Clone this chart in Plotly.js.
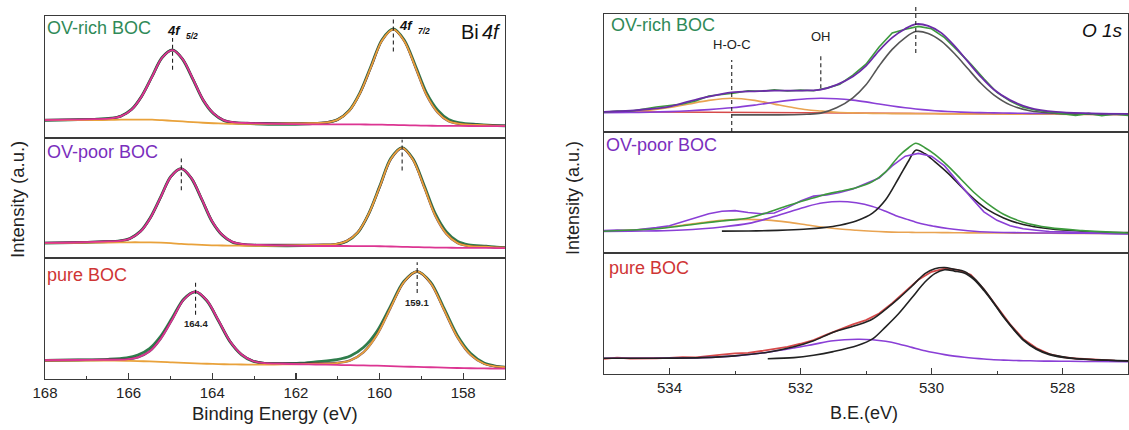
<!DOCTYPE html>
<html><head><meta charset="utf-8">
<script src="https://cdn.plot.ly/plotly-3.0.1.min.js"></script>
<style>html,body{margin:0;padding:0;background:#fff}#chart{width:1129px;height:430px}</style>
</head><body><div id="chart"></div>
<script>
// ---------------- DATA (normalised intensity per panel) ----------------
// Bi 4f
const biTickVals = [168,166,164,162,160,158];
const biTickText = ['168','166','164','162','160','158'];
const biRichX = [168,167.4,166.81,166.42,166.18,165.93,165.69,165.44,165.2,164.95,164.71,164.46,164.22,163.97,163.73,163.48,163.09,162.4,161.68,161.26,161.0,160.73,160.47,160.2,159.94,159.67,159.41,159.14,158.88,158.61,158.35,158.08,157.66,157.3,157];
const biRich52 = [0.147,0.150,0.154,0.161,0.179,0.232,0.340,0.502,0.658,0.721,0.648,0.482,0.314,0.202,0.147,0.128,0.122,0.116,0.112,0.112,0.112,0.111,0.111,0.110,0.109,0.107,0.105,0.103,0.101,0.100,0.099,0.099,0.098,0.098,0.098];
const biRich72 = [0.146,0.146,0.147,0.149,0.150,0.151,0.151,0.150,0.146,0.141,0.136,0.130,0.125,0.121,0.118,0.116,0.115,0.118,0.121,0.128,0.151,0.221,0.365,0.585,0.800,0.890,0.796,0.578,0.355,0.210,0.138,0.115,0.107,0.102,0.100];
const biRichEnv = [0.147,0.150,0.154,0.161,0.179,0.232,0.340,0.502,0.658,0.721,0.648,0.482,0.314,0.202,0.147,0.128,0.122,0.121,0.121,0.128,0.151,0.221,0.365,0.585,0.800,0.890,0.796,0.578,0.355,0.210,0.138,0.115,0.107,0.102,0.100];
const biRichRaw = [0.145,0.149,0.153,0.162,0.181,0.235,0.343,0.505,0.660,0.722,0.645,0.478,0.310,0.198,0.144,0.125,0.118,0.112,0.117,0.127,0.152,0.224,0.370,0.592,0.806,0.894,0.803,0.590,0.372,0.228,0.152,0.124,0.111,0.104,0.100];

const biPoorX = [168,167.3,166.6,166.21,165.97,165.72,165.48,165.23,164.99,164.74,164.5,164.25,164.01,163.76,163.52,163.27,162.88,162.2,161.47,161.05,160.79,160.52,160.26,159.99,159.73,159.46,159.2,158.93,158.67,158.4,158.14,157.87,157.45,157.2,157];
const biPoor52 = [0.126,0.129,0.137,0.143,0.162,0.219,0.334,0.509,0.678,0.744,0.667,0.490,0.310,0.192,0.134,0.115,0.109,0.103,0.100,0.100,0.100,0.099,0.099,0.098,0.096,0.093,0.091,0.089,0.087,0.086,0.085,0.084,0.084,0.083,0.083];
const biPoor72 = [0.124,0.126,0.129,0.130,0.131,0.131,0.130,0.128,0.124,0.117,0.113,0.109,0.106,0.104,0.103,0.102,0.101,0.105,0.110,0.116,0.141,0.214,0.367,0.598,0.824,0.917,0.819,0.589,0.355,0.201,0.126,0.100,0.094,0.088,0.086];
const biPoorEnv = [0.126,0.129,0.137,0.143,0.162,0.219,0.334,0.509,0.678,0.744,0.667,0.490,0.310,0.192,0.134,0.115,0.109,0.108,0.110,0.116,0.141,0.214,0.367,0.598,0.824,0.917,0.819,0.589,0.355,0.201,0.126,0.100,0.094,0.088,0.086];
const biPoorRaw = [0.124,0.128,0.135,0.142,0.163,0.222,0.338,0.512,0.680,0.745,0.664,0.486,0.306,0.189,0.131,0.112,0.105,0.102,0.106,0.112,0.138,0.212,0.368,0.603,0.830,0.920,0.826,0.602,0.372,0.218,0.140,0.110,0.098,0.090,0.087];

const biPureX = [168,167.2,166.49,166.05,165.78,165.5,165.23,164.95,164.68,164.4,164.13,163.85,163.58,163.3,163.03,162.75,162.31,161.9,161.53,161.02,160.7,160.38,160.06,159.74,159.42,159.1,158.78,158.46,158.14,157.82,157.5,157.18,157];
const biPure52 = [0.155,0.157,0.159,0.162,0.178,0.228,0.335,0.497,0.657,0.722,0.650,0.483,0.314,0.203,0.149,0.131,0.126,0.122,0.120,0.116,0.114,0.112,0.110,0.107,0.103,0.100,0.097,0.094,0.091,0.089,0.087,0.086,0.085];
const biPure72 = [0.153,0.153,0.152,0.150,0.148,0.145,0.142,0.137,0.133,0.129,0.126,0.123,0.121,0.120,0.119,0.119,0.121,0.123,0.127,0.132,0.153,0.222,0.366,0.586,0.800,0.889,0.794,0.573,0.347,0.199,0.126,0.102,0.097];
const biPureEnv = [0.155,0.157,0.159,0.162,0.178,0.228,0.335,0.497,0.657,0.722,0.650,0.483,0.314,0.203,0.149,0.131,0.128,0.127,0.129,0.132,0.153,0.222,0.366,0.586,0.800,0.889,0.794,0.573,0.347,0.199,0.126,0.102,0.097];
const biPureRaw = [0.153,0.157,0.163,0.175,0.198,0.252,0.355,0.510,0.662,0.720,0.645,0.478,0.310,0.200,0.147,0.130,0.127,0.130,0.142,0.160,0.190,0.262,0.395,0.600,0.806,0.888,0.800,0.585,0.360,0.210,0.132,0.104,0.097];

const biPeaks52 = [164.95,164.74,164.4];
const biPeaks72 = [159.67,159.46,159.1];
const biPosLabels = ['164.4','159.1'];
const biLevelMain = '4f';
const biLevelSub = ['5/2','7/2'];

// O 1s
const oTickVals = [534,532,530,528];
const oTickText = ['534','532','530','528'];
const oRawX = [535,534.8,534.6,534.4,534.2,534.0,533.8,533.6,533.4,533.2,533.0,532.8,532.6,532.4,532.2,532.0,531.8,531.6,531.4,531.2,531.0,530.8,530.6,530.4,530.2,530.0,529.8,529.6,529.4,529.2,529.0,528.8,528.6,528.4,528.2,528.0,527.8,527.6,527.4,527.2,527.0];

const oRichX = [535,534.6,534.3,534.0,533.7,533.4,533.05,532.7,532.4,532.1,531.9,531.69,531.45,531.2,531.0,530.8,530.6,530.4,530.24,530.05,529.85,529.65,529.45,529.25,529.05,528.8,528.5,528.1,527.6,527];
const oRichHOC = [0.168,0.172,0.185,0.207,0.238,0.268,0.286,0.268,0.236,0.205,0.188,0.178,0.168,0.162,0.159,0.157,0.156,0.156,0.155,0.155,0.154,0.154,0.153,0.153,0.152,0.151,0.151,0.150,0.149,0.149];
const oRichOH = [0.163,0.165,0.168,0.173,0.180,0.190,0.205,0.228,0.252,0.272,0.282,0.286,0.282,0.270,0.255,0.237,0.220,0.205,0.195,0.185,0.177,0.171,0.167,0.164,0.162,0.160,0.158,0.157,0.156,0.155];
const oRichLat = [null,null,null,null,null,null,0.145,0.145,0.145,0.146,0.150,0.160,0.205,0.290,0.400,0.560,0.700,0.800,0.851,0.835,0.770,0.665,0.540,0.415,0.315,0.230,0.180,0.158,0.150,0.148];
const oRichEnv = [0.170,0.180,0.195,0.215,0.260,0.300,0.335,0.345,0.350,0.350,0.352,0.360,0.400,0.470,0.560,0.690,0.800,0.875,0.914,0.900,0.840,0.730,0.600,0.470,0.360,0.270,0.205,0.170,0.158,0.153];
const oRichRaw = [0.168,0.178,0.176,0.195,0.212,0.225,0.238,0.262,0.305,0.318,0.330,0.350,0.345,0.358,0.348,0.355,0.350,0.372,0.405,0.482,0.575,0.720,0.840,0.870,0.895,0.875,0.800,0.690,0.575,0.450,0.335,0.262,0.210,0.185,0.170,0.155,0.140,0.158,0.138,0.152,0.140];
const oRichBgX = [535,533,531,529,527];
const oRichBg = [0.172,0.165,0.158,0.152,0.148];

const oPoorX = [535,534.6,534.2,533.8,533.5,533.2,532.79,532.5,532.2,531.9,531.65,531.4,531.15,530.9,530.7,530.5,530.35,530.24,530.1,529.95,529.75,529.55,529.35,529.15,528.9,528.6,528.2,527.7,527];
const oPoorHOC = [0.182,0.190,0.205,0.230,0.252,0.270,0.278,0.272,0.255,0.232,0.213,0.198,0.188,0.180,0.175,0.172,0.171,0.170,0.170,0.169,0.168,0.167,0.166,0.165,0.165,0.164,0.163,0.162,0.161];
const oPoorOH = [0.178,0.180,0.183,0.190,0.200,0.215,0.245,0.285,0.335,0.385,0.415,0.426,0.415,0.385,0.345,0.300,0.275,0.255,0.235,0.220,0.203,0.190,0.180,0.174,0.170,0.167,0.165,0.163,0.160];
const oPoorLat = [null,null,null,null,null,0.181,0.182,0.185,0.190,0.198,0.210,0.230,0.265,0.330,0.440,0.620,0.760,0.850,0.820,0.755,0.660,0.550,0.445,0.360,0.290,0.235,0.200,0.180,0.168];
const oPoorEnv = [0.180,0.190,0.200,0.225,0.246,0.265,0.290,0.335,0.390,0.440,0.480,0.510,0.540,0.590,0.670,0.800,0.870,0.907,0.870,0.815,0.720,0.610,0.500,0.410,0.320,0.255,0.210,0.185,0.165];
const oPoorRaw = [0.185,0.190,0.185,0.195,0.210,0.225,0.260,0.290,0.325,0.345,0.350,0.335,0.325,0.330,0.375,0.430,0.470,0.480,0.500,0.530,0.575,0.620,0.720,0.800,0.823,0.800,0.720,0.590,0.460,0.340,0.270,0.225,0.200,0.188,0.178,0.175,0.170,0.168,0.165,0.160,0.158];

const oPureX = [535,534.5,534,533.5,533,532.5,532.1,531.8,531.5,531.13,530.9,530.7,530.5,530.3,530.1,529.95,529.8,529.65,529.5,529.35,529.2,529.05,528.9,528.75,528.6,528.4,528.2,527.9,527.5,527];
const oPureOV = [0.130,0.130,0.131,0.135,0.150,0.180,0.215,0.245,0.275,0.287,0.283,0.270,0.248,0.220,0.192,0.175,0.160,0.148,0.138,0.130,0.124,0.118,0.115,0.112,0.110,0.108,0.106,0.105,0.103,0.102];
const oPureLat = [null,null,null,null,null,0.126,0.135,0.155,0.185,0.235,0.290,0.390,0.500,0.630,0.760,0.830,0.862,0.850,0.835,0.780,0.690,0.585,0.470,0.370,0.280,0.205,0.160,0.130,0.118,0.110];
const oPureEnv = [0.130,0.130,0.131,0.135,0.150,0.180,0.225,0.275,0.345,0.405,0.455,0.535,0.625,0.725,0.830,0.870,0.880,0.865,0.848,0.790,0.700,0.590,0.475,0.375,0.285,0.210,0.165,0.135,0.118,0.108];
const oPureRaw = [0.125,0.135,0.128,0.132,0.130,0.133,0.140,0.138,0.152,0.160,0.170,0.175,0.190,0.205,0.225,0.250,0.280,0.325,0.370,0.410,0.445,0.500,0.585,0.680,0.780,0.845,0.870,0.860,0.820,0.700,0.555,0.410,0.290,0.215,0.165,0.140,0.128,0.120,0.115,0.110,0.108];

const oPeakLat = 530.24, oPeakOH = 531.69, oPeakHOC = 533.05;

// ---------------- STYLE / LAYOUT ----------------
const W = 1129, H = 430;
const px = x => x / W, py = y => 1 - y / H;
const FONT = 'Liberation Sans, Arial, Helvetica, sans-serif';
const C = {
  green:'#2f7d4c', magenta:'#dc3592', orange:'#e9a23b', dark:'#4a1e3e',
  oGreen:'#3d9a3d', oPurple:'#6b2ca8', oViolet:'#8a3fd6', oOrange:'#e9a452', oBlack:'#222', oRed:'#d64a4a'
};
const leftRows = [[16,138],[138,258],[258,379]];
const rightRows = [[14,132],[132,253],[253,374]];
const leftX = [45,505], rightX = [604,1128];

function tr(x, y, ax, color, width, shape, extra) {
  return Object.assign({x:x, y:y, xaxis:'x'+(ax===1?'':ax), yaxis:'y'+(ax===1?'':ax), type:'scatter', mode:'lines',
    line:{color:color, width:width, shape:shape||'spline', smoothing:0.9}, hoverinfo:'skip', showlegend:false, connectgaps:false}, extra||{});
}

const data = [
  // Bi OV-rich
  tr(biRichX, biRichRaw, 1, C.green, 2.8),
  tr(biRichX, biRichEnv, 1, C.dark, 2.4, 'spline', {opacity:0.8}),
  tr(biRichX, biRich72, 1, C.orange, 1.8),
  tr(biRichX, biRich52, 1, C.magenta, 1.8),
  // Bi OV-poor
  tr(biPoorX, biPoorRaw, 2, C.green, 2.8),
  tr(biPoorX, biPoorEnv, 2, C.dark, 2.4, 'spline', {opacity:0.8}),
  tr(biPoorX, biPoor72, 2, C.orange, 1.8),
  tr(biPoorX, biPoor52, 2, C.magenta, 1.8),
  // Bi pure
  tr(biPureX, biPureRaw, 3, C.green, 2.8),
  tr(biPureX, biPureEnv, 3, C.dark, 2.4, 'spline', {opacity:0.8}),
  tr(biPureX, biPure72, 3, C.orange, 1.8),
  tr(biPureX, biPure52, 3, C.magenta, 1.8),
  // O OV-rich
  tr(oRichBgX, oRichBg, 4, C.oRed, 1.6, 'linear'),
  tr(oRichX, oRichHOC, 4, C.oOrange, 1.6),
  tr(oRichX, oRichOH, 4, C.oViolet, 1.6),
  tr(oRichX, oRichLat, 4, '#555', 1.6),
  tr(oRawX, oRichRaw, 4, C.oGreen, 1.6, 'linear'),
  tr(oRichX, oRichEnv, 4, C.oPurple, 1.8),
  // O OV-poor
  tr(oPoorX, oPoorHOC, 5, C.oOrange, 1.6),
  tr(oPoorX, oPoorOH, 5, C.oViolet, 1.6),
  tr(oPoorX, oPoorLat, 5, C.oBlack, 1.6),
  tr(oRawX, oPoorRaw, 5, C.oViolet, 1.6, 'linear'),
  tr(oPoorX, oPoorEnv, 5, C.oGreen, 1.6),
  // O pure
  tr(oRawX, oPureRaw, 6, C.oRed, 1.8, 'linear'),
  tr(oPureX, oPureOV, 6, C.oViolet, 1.6),
  tr(oPureX, oPureLat, 6, C.oBlack, 1.6),
  tr(oPureX, oPureEnv, 6, C.oBlack, 1.6)
];

const layout = {
  width:W, height:H, margin:{l:0,r:0,t:0,b:0}, paper_bgcolor:'#fff', plot_bgcolor:'#fff',
  font:{family:FONT, color:'#222'}, showlegend:false, shapes:[], annotations:[]
};
const lineStyle = {showline:true, mirror:true, linecolor:'#3a3a3a', linewidth:1.3, showgrid:false, zeroline:false, fixedrange:true};
for (let i = 1; i <= 6; i++) {
  const left = i <= 3;
  const row = left ? leftRows[i-1] : rightRows[i-4];
  const xs = left ? leftX : rightX;
  const bottom = (i === 3 || i === 6);
  const xa = Object.assign({}, lineStyle, {
    domain:[px(xs[0]), px(xs[1])], range: left ? [168,157] : [535,527],
    anchor:'y'+(i===1?'':i), ticks:'', showticklabels:false
  });
  if (bottom) {
    Object.assign(xa, {ticks:'inside', ticklen:6, tickwidth:1.2, tickcolor:'#3a3a3a',
      tickmode:'array', tickvals: left ? biTickVals : oTickVals, ticktext: left ? biTickText : oTickText,
      showticklabels:true, tickfont:{size:15, color:'#222', family:FONT},
      minor:{ticks:'inside', ticklen:3.5, tickwidth:1, tickcolor:'#3a3a3a', dtick:1, tick0:0}});
  }
  const ya = Object.assign({}, lineStyle, {
    domain:[py(row[1]), py(row[0])], range:[0,1], anchor:'x'+(i===1?'':i), ticks:'', showticklabels:false
  });
  layout['xaxis'+(i===1?'':i)] = xa;
  layout['yaxis'+(i===1?'':i)] = ya;
}

// dashed peak markers
const dash = {color:'#222', width:1.1, dash:'4px,3px'};
function vline(ax, x, y0, y1) {
  layout.shapes.push({type:'line', xref:'x'+(ax===1?'':ax), yref:'y'+(ax===1?'':ax)+' domain', x0:x, x1:x, y0:y0, y1:y1, line:dash});
}
vline(1, biPeaks52[0], 0.56, 0.82); vline(1, biPeaks72[0], 0.71, 0.99);
vline(2, biPeaks52[1], 0.565, 0.83); vline(2, biPeaks72[1], 0.73, 0.985);
vline(3, biPeaks52[2], 0.53, 0.805); vline(3, biPeaks72[2], 0.71, 0.965);
vline(4, oPeakLat, 0.67, 1.07); vline(4, oPeakOH, 0.37, 0.65); vline(4, oPeakHOC, 0.0, 0.61);

function ann(o) { layout.annotations.push(Object.assign({showarrow:false}, o)); }
function fnt(size, color, weight, style) { return {family:FONT, size:size, color:color||'#222', weight:weight||'normal', style:style||'normal'}; }
function t(ax, x, y, text, font, xanchor, extra) {
  ann(Object.assign({xref:'x'+(ax===1?'':ax), yref:'y'+(ax===1?'':ax)+' domain', x:x, y:y, text:text, xanchor:xanchor||'center', yanchor:'middle', font:font}, extra||{}));
}
function p(x, y, text, font, xanchor, extra) {
  ann(Object.assign({xref:'paper', yref:'paper', x:px(x), y:py(y), text:text, xanchor:xanchor||'center', yanchor:'middle', font:font}, extra||{}));
}
// panel labels
p(45, 28, 'OV-rich BOC', fnt(18, '#2f8a58'), 'left');
p(45, 152, 'OV-poor BOC', fnt(18, '#7a2fbd'), 'left');
p(45, 275, 'pure BOC', fnt(18, '#cf3535'), 'left');
p(609, 25, 'OV-rich BOC', fnt(18, '#2f8a58'), 'left');
p(604, 145, 'OV-poor BOC', fnt(18, '#7a2fbd'), 'left');
p(607, 268, 'pure BOC', fnt(18, '#cf3535'), 'left');
// element labels
p(481, 32, 'Bi', fnt(20, '#111'), 'right');
p(503, 32, '4f', fnt(20, '#111', 'normal', 'italic'), 'right');
p(1125, 30, 'O 1s', fnt(19, '#111', 'normal', 'italic'), 'right');
// spin-orbit labels
t(1, 165.14, 0.88, biLevelMain, fnt(13, '#111', 'bold', 'italic'), 'left');
t(1, 165.14, 0.88, biLevelSub[0], fnt(8.5, '#111', 'bold', 'italic'), 'left', {xshift:19, yshift:-5});
t(1, 159.58, 0.92, biLevelMain, fnt(13, '#111', 'bold', 'italic'), 'left');
t(1, 159.58, 0.92, biLevelSub[1], fnt(8.5, '#111', 'bold', 'italic'), 'left', {xshift:19, yshift:-5});
t(3, biPeaks52[2], 0.46, biPosLabels[0], fnt(9.5, '#222', 'bold'));
t(3, biPeaks72[2], 0.63, biPosLabels[1], fnt(9.5, '#222', 'bold'));
t(4, oPeakHOC, 0.74, 'H-O-C', fnt(13));
t(4, oPeakOH, 0.81, 'OH', fnt(13));
// axis titles
p(275, 413, 'Binding Energy (eV)', fnt(18.5));
p(864, 413, 'B.E.(eV)', fnt(18));
p(18, 200, 'Intensity (a.u.)', fnt(18.5), 'center', {textangle:-90});
p(573, 198, 'Intensity (a.u.)', fnt(18), 'center', {textangle:-90});

Plotly.newPlot('chart', data, layout, {staticPlot:true, displayModeBar:false});
</script></body></html>
